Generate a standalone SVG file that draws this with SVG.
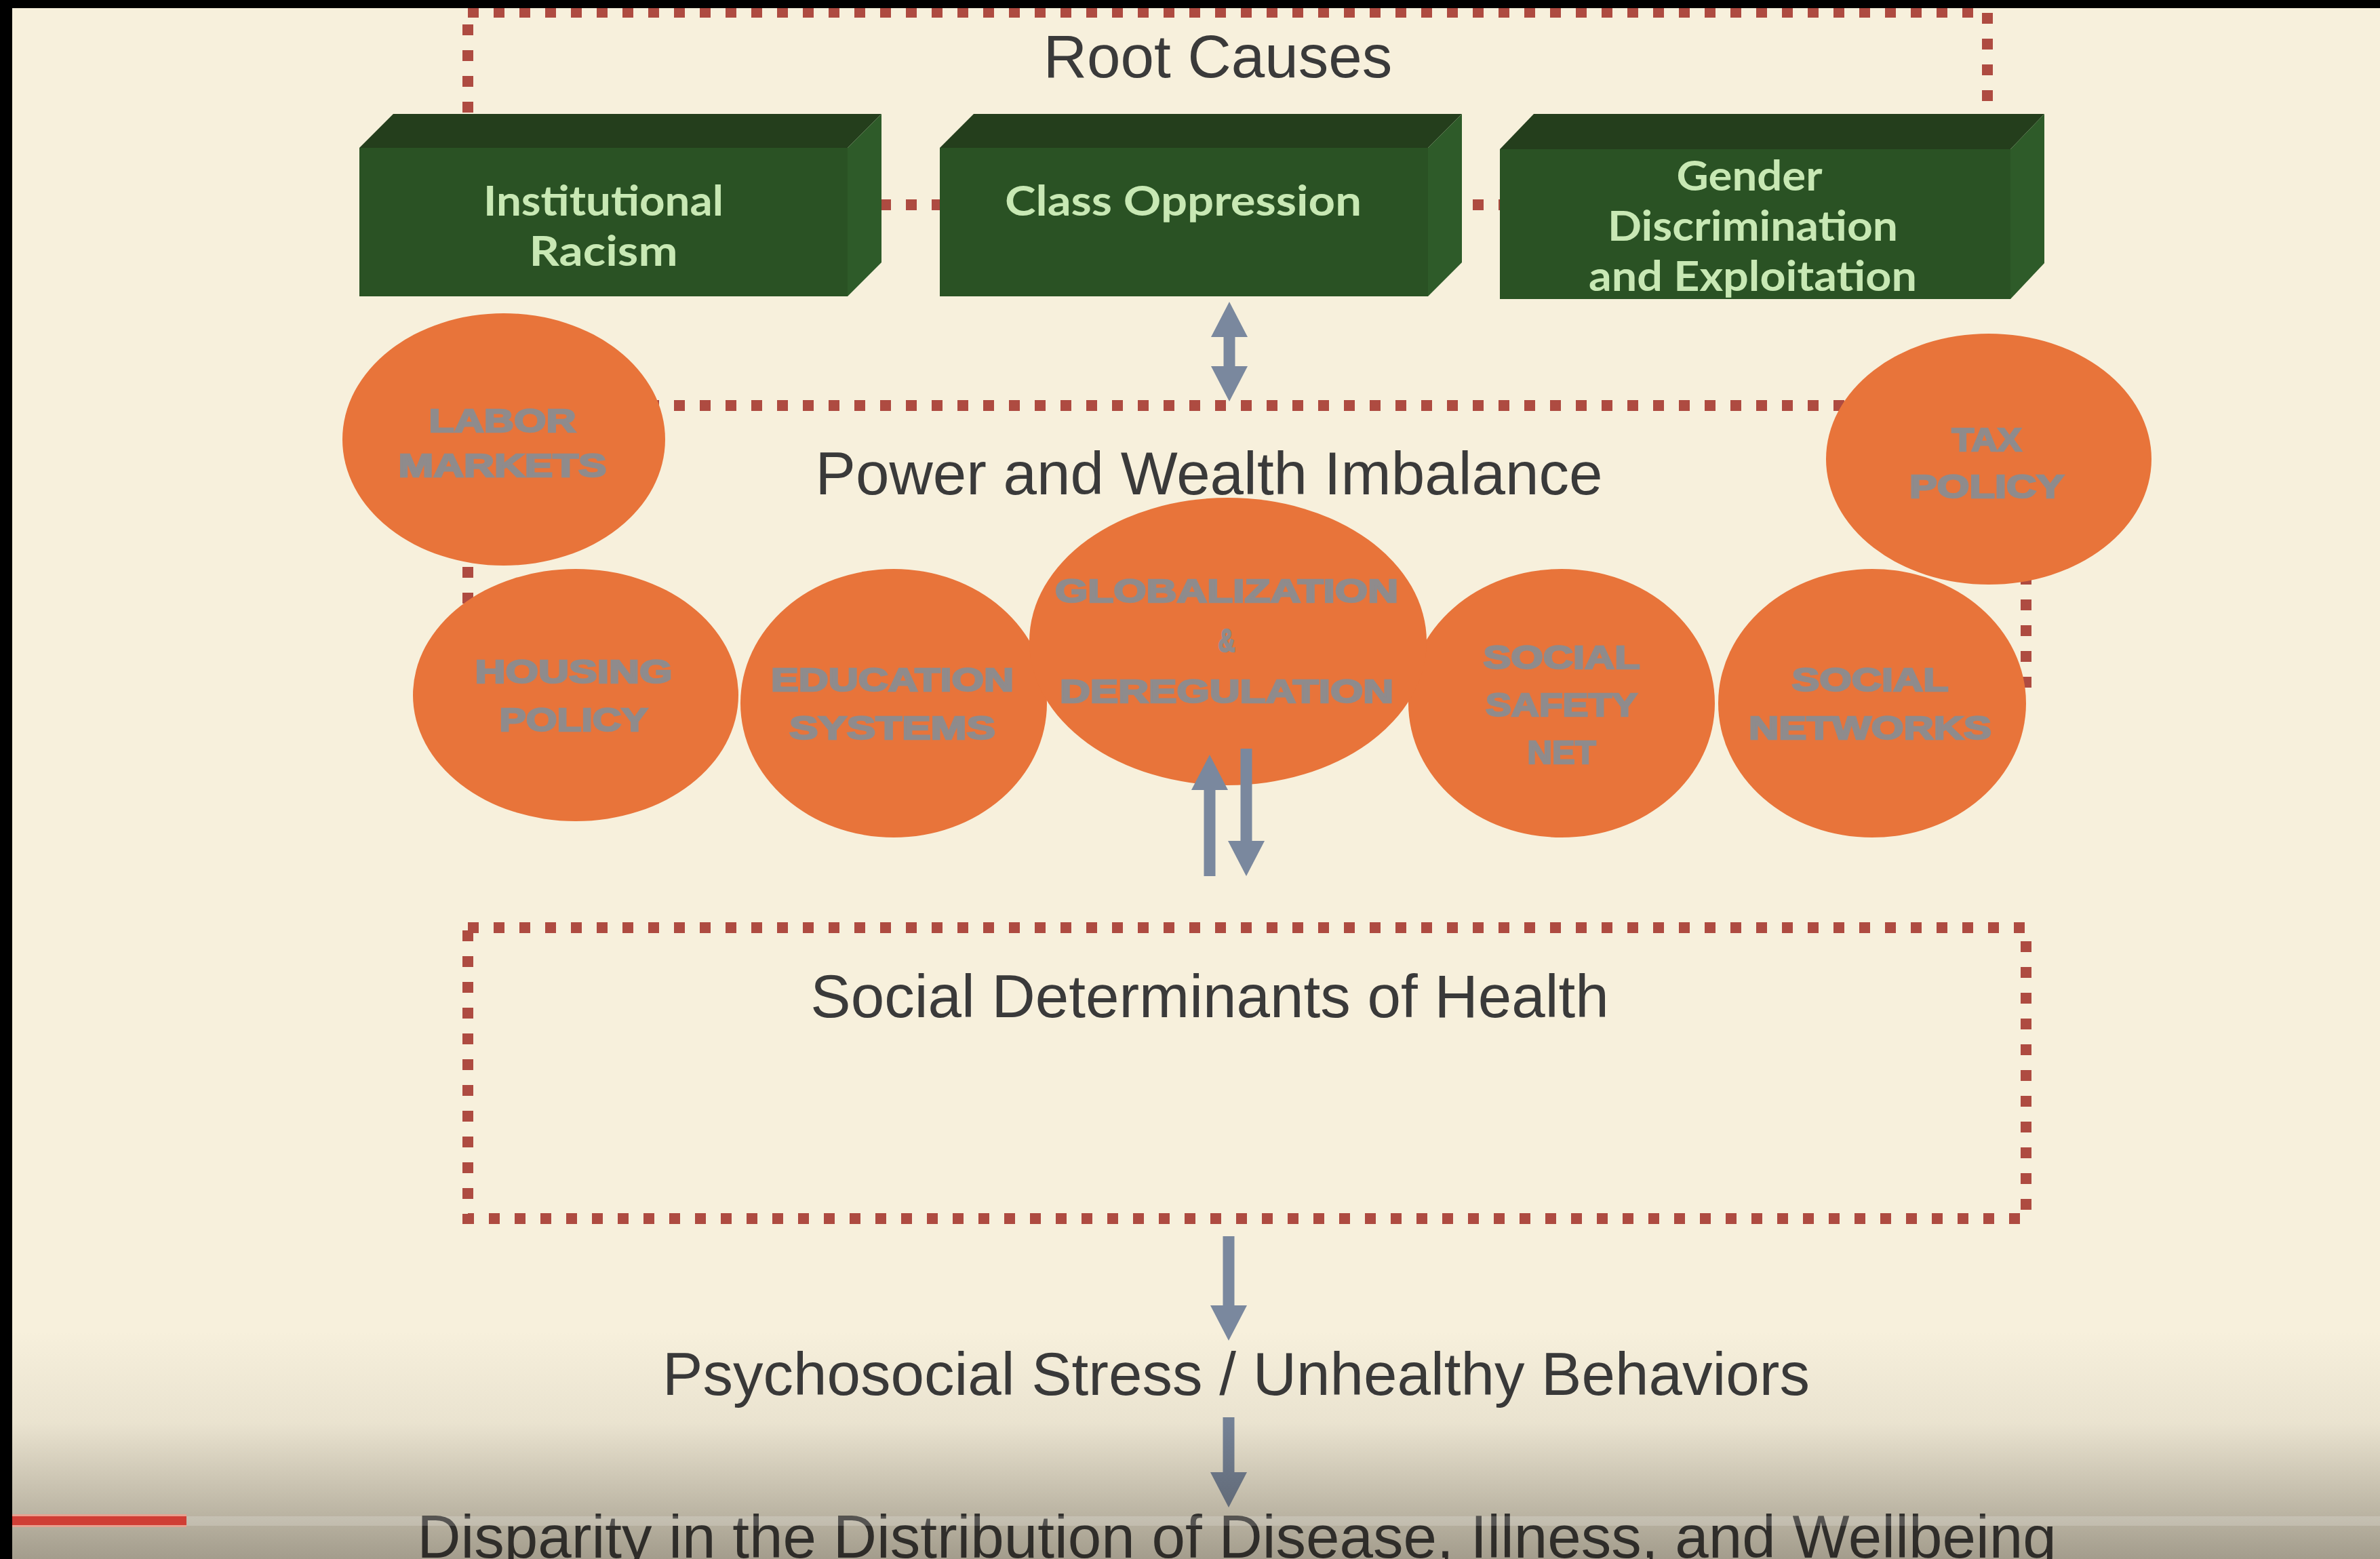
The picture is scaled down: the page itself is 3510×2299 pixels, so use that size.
<svg xmlns="http://www.w3.org/2000/svg" width="3510" height="2299" viewBox="0 0 3510 2299">
<defs>
<style>
.bg{fill:#F7F0DC}
.dot{fill:none;stroke:#AE4B41;stroke-width:16;stroke-dasharray:16 22}
.top{fill:#243E1C}
.front{fill:#2A5224}
.side{fill:#2E5B29}
.bt{font-family:"Lato","Open Sans","Liberation Sans",sans-serif;font-weight:700;font-size:62px;fill:#C8E8B4;text-anchor:middle}
.ell{fill:#E8743A}
.et{font-family:"Liberation Sans","Arial",sans-serif;font-weight:700;font-size:48px;fill:#8F8B8C;stroke:#8F8B8C;stroke-width:2.5;text-anchor:middle}
.lbl{font-family:"Liberation Sans","Arial",sans-serif;font-size:89px;fill:#3A3A3A;text-anchor:middle}
.arr{stroke:#7A889E;stroke-width:17;fill:none}
</style>
<marker id="ah" markerUnits="userSpaceOnUse" markerWidth="56" markerHeight="58" viewBox="0 0 56 58" refX="1" refY="29" orient="auto-start-reverse">
<path d="M0,2 L52,29 L0,56 z" fill="#7A889E"/>
</marker>
<linearGradient id="shade" x1="0" y1="0" x2="0" y2="1">
<stop offset="0" stop-color="#1a140a" stop-opacity="0"/>
<stop offset="0.41" stop-color="#1a140a" stop-opacity="0.06"/>
<stop offset="0.8" stop-color="#1a140a" stop-opacity="0.27"/>
<stop offset="1" stop-color="#1a140a" stop-opacity="0.38"/>
</linearGradient>
</defs>
<rect class="bg" x="0" y="0" width="3510" height="2299"/>

<g id="frames">
<rect id="root-causes-frame" class="dot" x="690" y="18" width="2241" height="284"/>
<rect id="power-frame" class="dot" x="690" y="598" width="2298" height="432"/>
<rect id="sdh-frame" class="dot" x="690" y="1368" width="2298" height="429"/>
</g>

<g id="root-causes-label"><text class="lbl" x="1796" y="114">Root Causes</text></g>

<g id="institutional-racism">
<polygon class="top" points="530,218 580,168 1300,168 1250,218"/>
<rect class="front" x="530" y="218" width="720" height="219"/>
<polygon class="side" points="1250,218 1300,168 1300,387 1250,437"/>
<text class="bt" x="890" y="318" textLength="354" lengthAdjust="spacingAndGlyphs">Institutional</text>
<text class="bt" x="890" y="392" textLength="219" lengthAdjust="spacingAndGlyphs">Racism</text>
</g>
<g id="class-oppression">
<polygon class="top" points="1386,218 1436,168 2156,168 2106,218"/>
<rect class="front" x="1386" y="218" width="720" height="219"/>
<polygon class="side" points="2106,218 2156,168 2156,387 2106,437"/>
<text class="bt" x="1745" y="318" textLength="526" lengthAdjust="spacingAndGlyphs">Class Oppression</text>
</g>
<g id="gender-discrimination">
<polygon class="top" points="2212,220 2262,168 3015,168 2965,220"/>
<rect class="front" x="2212" y="220" width="753" height="221"/>
<polygon class="side" points="2965,220 3015,168 3015,388 2965,441"/>
<text class="bt" x="2580" y="281" textLength="215" lengthAdjust="spacingAndGlyphs">Gender</text>
<text class="bt" x="2585" y="355" textLength="428" lengthAdjust="spacingAndGlyphs">Discrimination</text>
<text class="bt" x="2585" y="429" textLength="484" lengthAdjust="spacingAndGlyphs">and Exploitation</text>
</g>

<g id="power-label"><text class="lbl" x="1783" y="729">Power and Wealth Imbalance</text></g>

<g id="housing-policy">
<ellipse class="ell" cx="849" cy="1025" rx="240" ry="186"/>
<text class="et" x="846" y="1007" textLength="291" lengthAdjust="spacingAndGlyphs">HOUSING</text>
<text class="et" x="846" y="1078" textLength="219" lengthAdjust="spacingAndGlyphs">POLICY</text>
</g>
<g id="labor-markets">
<ellipse class="ell" cx="743" cy="648" rx="238" ry="186"/>
<text class="et" x="741" y="637" textLength="217" lengthAdjust="spacingAndGlyphs">LABOR</text>
<text class="et" x="741" y="703" textLength="307" lengthAdjust="spacingAndGlyphs">MARKETS</text>
</g>
<g id="education-systems">
<ellipse class="ell" cx="1318" cy="1037" rx="226" ry="198"/>
<text class="et" x="1316" y="1019" textLength="358" lengthAdjust="spacingAndGlyphs">EDUCATION</text>
<text class="et" x="1316" y="1090" textLength="304" lengthAdjust="spacingAndGlyphs">SYSTEMS</text>
</g>
<g id="social-safety-net">
<ellipse class="ell" cx="2303" cy="1037" rx="226" ry="198"/>
<text class="et" x="2303" y="986" textLength="231" lengthAdjust="spacingAndGlyphs">SOCIAL</text>
<text class="et" x="2303" y="1056" textLength="224" lengthAdjust="spacingAndGlyphs">SAFETY</text>
<text class="et" x="2303" y="1126" textLength="101" lengthAdjust="spacingAndGlyphs">NET</text>
</g>
<g id="social-networks">
<ellipse class="ell" cx="2761" cy="1037" rx="227" ry="198"/>
<text class="et" x="2758" y="1019" textLength="231" lengthAdjust="spacingAndGlyphs">SOCIAL</text>
<text class="et" x="2758" y="1090" textLength="358" lengthAdjust="spacingAndGlyphs">NETWORKS</text>
</g>
<g id="tax-policy">
<ellipse class="ell" cx="2933" cy="677" rx="240" ry="185"/>
<text class="et" x="2930" y="665" textLength="103" lengthAdjust="spacingAndGlyphs">TAX</text>
<text class="et" x="2930" y="734" textLength="228" lengthAdjust="spacingAndGlyphs">POLICY</text>
</g>
<g id="globalization-deregulation">
<ellipse class="ell" cx="1811" cy="946" rx="293" ry="212"/>
<text class="et" x="1809" y="888" textLength="506" lengthAdjust="spacingAndGlyphs">GLOBALIZATION</text>
<text class="et" x="1809" y="961" textLength="25" lengthAdjust="spacingAndGlyphs">&amp;</text>
<text class="et" x="1809" y="1036" textLength="492" lengthAdjust="spacingAndGlyphs">DEREGULATION</text>
</g>

<g id="sdh-label"><text class="lbl" x="1784" y="1500">Social Determinants of Health</text></g>
<g id="psychosocial"><text class="lbl" x="1823" y="2057">Psychosocial Stress / Unhealthy Behaviors</text></g>
<g id="disparity"><text class="lbl" x="1824" y="2297">Disparity in the Distribution of Disease, Illness, and Wellbeing</text></g>

<g id="connectors">
<line class="arr" x1="1813" y1="496" x2="1813" y2="541" marker-start="url(#ah)" marker-end="url(#ah)"/>
<line class="arr" x1="1784" y1="1292" x2="1784" y2="1164" marker-end="url(#ah)"/>
<line class="arr" x1="1838" y1="1104" x2="1838" y2="1241" marker-end="url(#ah)"/>
<line class="arr" x1="1812" y1="1823" x2="1812" y2="1926" marker-end="url(#ah)"/>
<line class="arr" x1="1812" y1="2090" x2="1812" y2="2172" marker-end="url(#ah)"/>
</g>

<g id="player-overlay">
<rect x="0" y="1960" width="3510" height="339" fill="url(#shade)"/>
<rect x="275" y="2236" width="3235" height="14" fill="#FFFFFF" fill-opacity="0.18"/>
<rect x="18" y="2233" width="257" height="19" fill="#E8A090"/>
<rect x="18" y="2236" width="257" height="13" fill="#CF3E35"/>
<rect x="0" y="0" width="3510" height="12" fill="#000"/>
<rect x="0" y="0" width="18" height="2299" fill="#000"/>
</g>
</svg>
